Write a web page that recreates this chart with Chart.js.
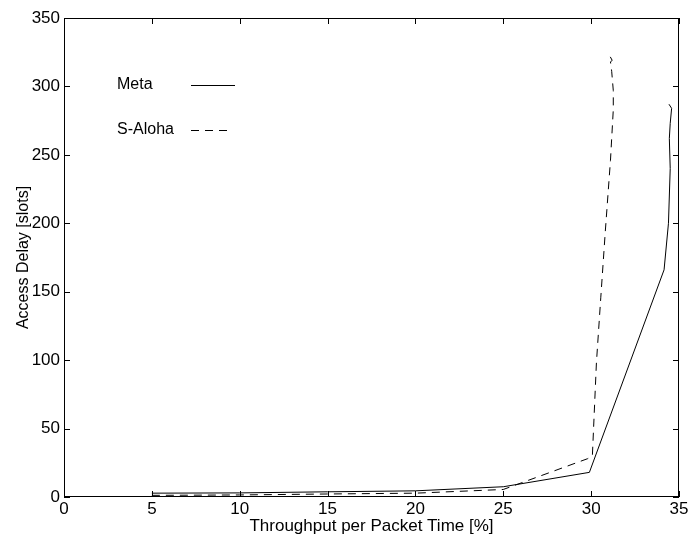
<!DOCTYPE html>
<html>
<head>
<meta charset="utf-8">
<script src="https://cdn.jsdelivr.net/npm/chart.js@4.4.1/dist/chart.umd.min.js"></script>
<style>
  html, body { margin: 0; padding: 0; background: #fff; }
  #wrap { width: 696px; height: 540px; }
</style>
</head>
<body>
<div id="wrap"><canvas id="myChart" width="696" height="540"></canvas></div>
<script>
// values
const seriesNames = ['Meta', 'S-Aloha'];
const metaX = [5, 10, 15, 20, 25, 29.9, 34.15, 34.4, 34.5, 34.45, 34.5, 34.58, 34.43];
const metaY = [2.8, 3, 3.8, 4.5, 7.5, 18, 166, 200, 240, 262, 273, 284, 287];
const alohaX = [5, 10, 15, 20, 25, 29.8, 30.07, 30.3, 30.55, 30.8, 31.1, 31.26, 31.26, 31.17, 31.1, 31.2, 31.03];
const alohaY = [1.2, 1.5, 2.2, 2.8, 5.5, 28, 30, 98, 146, 193, 246, 283, 297, 311, 318, 319, 323];
const xTicks = [0, 5, 10, 15, 20, 25, 30, 35];
const yTicks = [0, 50, 100, 150, 200, 250, 300, 350];

const ctx = document.getElementById('myChart');
const FONT = "'Liberation Sans', Arial, Helvetica, sans-serif";

const toPts = (xs, ys) => xs.map((x, i) => ({x: x, y: ys[i]}));

// box round the plot plus inward ticks on all four sides (matlab style)
const boxPlugin = {
  id: 'box',
  afterDraw(chart) {
    const c = chart.ctx;
    const a = chart.chartArea;
    const sx = chart.scales.x, sy = chart.scales.y;
    c.save();
    c.strokeStyle = '#000';
    c.lineWidth = 1;
    c.strokeRect(a.left + 0.5, a.top + 0.5, a.right - a.left - 1, a.bottom - a.top - 1);
    c.beginPath();
    xTicks.forEach(v => {
      const px = Math.round(sx.getPixelForValue(v)) + 0.5;
      c.moveTo(px, a.bottom); c.lineTo(px, a.bottom - 6);
      c.moveTo(px, a.top); c.lineTo(px, a.top + 6);
    });
    yTicks.forEach(v => {
      const py = Math.round(sy.getPixelForValue(v)) + 0.5;
      c.moveTo(a.left, py); c.lineTo(a.left + 6, py);
      c.moveTo(a.right, py); c.lineTo(a.right - 6, py);
    });
    c.stroke();
    c.restore();
  }
};

// legend drawn inside the axes, top left
const legendPlugin = {
  id: 'innerLegend',
  afterDraw(chart) {
    const c = chart.ctx;
    const a = chart.chartArea;
    c.save();
    c.font = '16px ' + FONT;
    c.fillStyle = '#000';
    c.textBaseline = 'middle';
    chart.data.datasets.forEach((ds, i) => {
      const y = a.top + 67 + i * 45;
      c.fillText(ds.label, a.left + 53, y);
      c.beginPath();
      c.strokeStyle = '#000';
      c.lineWidth = 1;
      c.setLineDash(ds.borderDash || []);
      c.moveTo(a.left + 127, y + 0.5);
      c.lineTo(a.left + (ds.borderDash ? 165 : 171), y + 0.5);
      c.stroke();
    });
    c.restore();
  }
};

new Chart(ctx, {
  type: 'scatter',
  data: {
    datasets: [
      {
        label: seriesNames[0],
        data: toPts(metaX, metaY),
        showLine: true,
        borderColor: '#000',
        borderWidth: 1,
        pointRadius: 0,
        tension: 0
      },
      {
        label: seriesNames[1],
        data: toPts(alohaX, alohaY),
        showLine: true,
        borderColor: '#000',
        borderWidth: 1,
        borderDash: [8, 6],
        pointRadius: 0,
        tension: 0
      }
    ]
  },
  options: {
    responsive: false,
    animation: false,
    layout: { padding: { left: 0, right: 17, top: 18, bottom: 0 } },
    plugins: {
      legend: { display: false },
      tooltip: { enabled: false }
    },
    scales: {
      x: {
        type: 'linear',
        min: 0, max: 35,
        afterFit: s => { s.height = 43; },
        afterBuildTicks: s => { s.ticks = xTicks.map(v => ({value: v})); },
        grid: { display: false, drawTicks: false },
        border: { display: false },
        ticks: { color: '#000', font: { family: FONT, size: 17 }, padding: 2, maxRotation: 0 },
        title: { display: true, text: 'Throughput per Packet Time [%]', color: '#000',
                 font: { family: FONT, size: 17 }, padding: { top: 0, bottom: 3 } }
      },
      y: {
        type: 'linear',
        min: 0, max: 350,
        afterFit: s => { s.width = 64; },
        afterBuildTicks: s => { s.ticks = yTicks.map(v => ({value: v})); },
        grid: { display: false, drawTicks: false },
        border: { display: false },
        ticks: { color: '#000', font: { family: FONT, size: 17 }, padding: 4 },
        title: { display: true, text: 'Access Delay [slots]', color: '#000',
                 font: { family: FONT, size: 16 }, padding: { top: 14, bottom: 0 } }
      }
    }
  },
  plugins: [boxPlugin, legendPlugin]
});
</script>
</body>
</html>
